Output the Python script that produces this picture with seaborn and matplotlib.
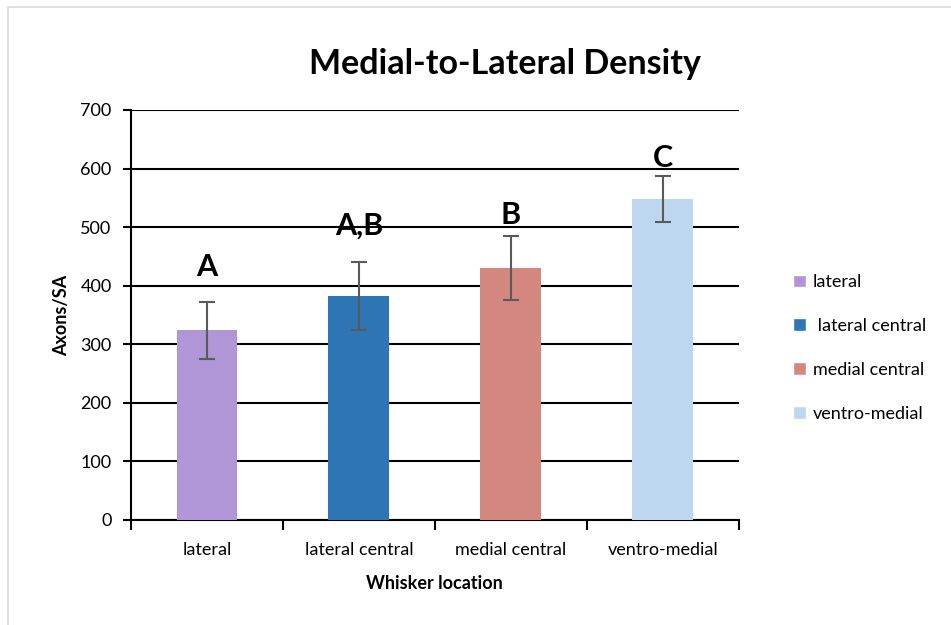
import numpy as np
import pandas as pd
import matplotlib
matplotlib.use("Agg")
import matplotlib.pyplot as plt
import seaborn as sns
from matplotlib.patches import Rectangle

# Data
locations = ["lateral", "lateral central", "medial central", "ventro-medial"]
legend_labels = ["lateral", " lateral central", "medial central", "ventro-medial"]
axons_sa = [324, 382, 430, 548]
sem = [49, 58, 55, 39]
letters = ["A", "A,B", "B", "C"]
letter_y = [408, 478, 497, 594]
colors = ["#B096D6", "#2E75B6", "#D3877F", "#BDD7EE"]

df = pd.DataFrame({"location": locations, "axons": axons_sa})

sns.set_style("white")
plt.rcParams["font.family"] = ["Lato", "DejaVu Sans"]
plt.rcParams["text.color"] = "black"
plt.rcParams["axes.labelcolor"] = "black"
plt.rcParams["xtick.color"] = "black"
plt.rcParams["ytick.color"] = "black"

fig = plt.figure(figsize=(9.51, 6.25), dpi=100)
ax = fig.add_axes([0.1377, 0.168, 0.639, 0.656])

# light frame around the chart area
fig.patches.append(Rectangle((0.008, -0.01), 1.0, 0.999, transform=fig.transFigure,
                             fill=False, edgecolor="#d9d9d9", linewidth=1.2))

sns.barplot(data=df, x="location", y="axons", hue="location", palette=colors,
            width=0.4, dodge=False, legend=False, saturation=1, linewidth=0,
            ax=ax, zorder=3)
ax.errorbar(np.arange(len(locations)), axons_sa, yerr=sem, fmt="none",
            ecolor="#5a5a5a", elinewidth=1.5, capsize=6, capthick=1.5, zorder=4)

for i, (lab, yy) in enumerate(zip(letters, letter_y)):
    ax.text(i, yy, lab, ha="center", va="bottom", fontsize=22, fontweight="bold")

ax.set_ylim(0, 700)
ax.set_xlim(-0.5, 3.5)
ax.set_yticks(range(0, 701, 100))
ax.yaxis.grid(True, color="black", linewidth=1.5)
ax.set_axisbelow(True)
for s in ["top", "right"]:
    ax.spines[s].set_visible(False)
for s in ["left", "bottom"]:
    ax.spines[s].set_color("black")
    ax.spines[s].set_linewidth(1.5)

ax.set_xticks(range(len(locations)))
ax.set_xticklabels(locations)
ax.set_xticks(np.arange(-0.5, 4, 1), minor=True)
ax.tick_params(axis="x", which="major", length=0, pad=16, labelsize=13)
ax.tick_params(axis="x", which="minor", length=7, width=1.5, color="black", direction="out")
ax.tick_params(axis="y", length=6, width=1.5, color="black", direction="out", labelsize=13, pad=8)
ax.tick_params(axis="y", left=True)
ax.tick_params(axis="x", which="minor", bottom=True)

ax.set_xlabel("Whisker location", fontsize=13, fontweight="bold", labelpad=12)
ax.set_ylabel("Axons/SA", fontsize=13, fontweight="bold", labelpad=7)
fig.text(0.531, 0.897, "Medial-to-Lateral Density", ha="center", va="center",
         fontsize=24.5, fontweight="bold")

handles = [Rectangle((0, 0), 1, 1, facecolor=c) for c in colors]
fig.legend(handles, legend_labels, loc="center left", bbox_to_anchor=(0.817, 0.443),
           frameon=False, fontsize=13, handlelength=0.7, handleheight=0.7,
           handletextpad=0.4, labelspacing=1.55)

fig.savefig("out.png", dpi=100)
